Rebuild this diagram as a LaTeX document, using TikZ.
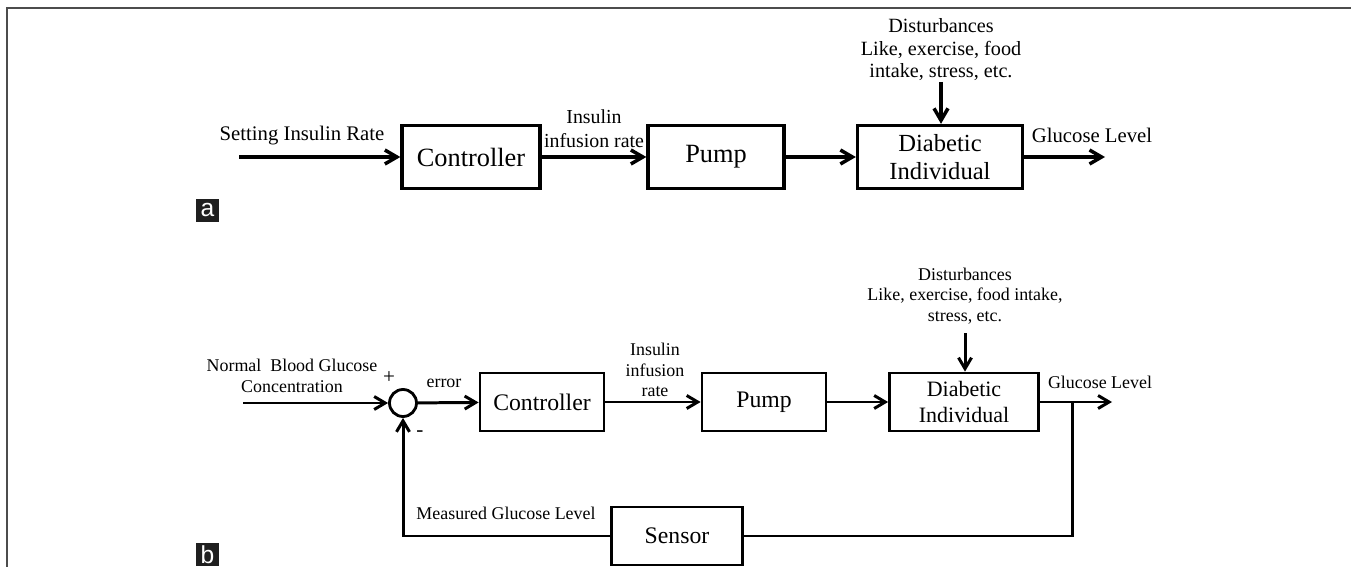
\documentclass[tikz,border=0pt]{standalone}
\usepackage{fontspec}
\setmainfont{Liberation Serif}
\setsansfont{Liberation Sans}
\usetikzlibrary{arrows.meta}

\tikzset{
  blka/.style={draw, line width=1.9pt, inner sep=0pt, align=center,
    minimum height=1.26cm, font=\fontsize{15}{17}\selectfont},
  blkb/.style={draw, line width=1.6pt, inner sep=0pt, align=center,
    minimum height=1.16cm, font=\fontsize{13.5}{15}\selectfont},
  lbla/.style={align=center, inner sep=0pt, font=\fontsize{11.8}{13.5}\selectfont},
  lblb/.style={align=center, inner sep=0pt, font=\fontsize{10.2}{11.6}\selectfont},
  sigA/.style={line width=2pt, -{Straight Barb[length=2.4mm,width=2.8mm]}},
  sigB/.style={line width=1.7pt, -{Straight Barb[length=2.2mm,width=2.6mm]}},
  tag/.style={fill=black!88, text=white, inner sep=0pt, minimum width=0.46cm,
    minimum height=0.46cm, font=\sffamily\fontsize{14}{14}\selectfont}
}

\begin{document}
\begin{tikzpicture}[x=0.02cm, y=-0.02cm]
\useasboundingbox (0,0) rectangle (1351,567);
\clip (0,0) rectangle (1351,567);
\draw[line width=1.2pt, black!70] (7,567) -- (7,8) -- (1351,8);

% open loop
\node[blka, minimum width=2.76cm] (ctrla) at (471,157) {Controller};
\node[blka, minimum width=2.72cm] (pumpa) at (716,157) {Pump};
\node[blka, minimum width=3.3cm, font=\fontsize{14}{15.5}\selectfont] (diaba) at (940,157) {Diabetic\\Individual};
\coordinate (ina) at (239,157);
\coordinate (outa) at (1105,157);
\coordinate (dista) at (941,82);
\node[lbla] (setl) at (302,136) {Setting Insulin Rate};
\node[lbla, font=\fontsize{11.3}{13.5}\selectfont] (infa) at (594,129) {Insulin\\infusion rate};
\node[lbla] (glua) at (1092,135) {Glucose Level};
\node[lbla, font=\fontsize{11.5}{12.8}\selectfont] (distla) at (941,50) {Disturbances\\Like, exercise, food\\intake, stress, etc.};
\draw[sigA] (ina) -- (ctrla);
\draw[sigA] (ctrla) -- (pumpa);
\draw[sigA] (pumpa) -- (diaba);
\draw[sigA] (diaba) -- (outa);
\draw[sigA] (dista) -- (diaba.north -| dista);

% closed loop
\node[draw, circle, line width=1.6pt, minimum size=0.54cm, inner sep=0pt] (sum) at (403,403) {};
\node[blkb, minimum width=2.48cm] (ctrlb) at (542,402) {Controller};
\node[blkb, minimum width=2.48cm] (pumpb) at (764,402) {Pump};
\node[blkb, minimum width=2.98cm, font=\fontsize{12.5}{14.5}\selectfont] (diabb) at (964,402) {Diabetic\\Individual};
\node[blkb, minimum width=2.62cm] (sens) at (677,536) {Sensor};
\coordinate (inb) at (243,403);
\coordinate (outb) at (1112,402);
\coordinate (tap) at (1072,402);
\coordinate (distb) at (965,333);
\node[lblb] (norm) at (292,376) {Normal\ \ Blood Glucose\\Concentration};
\node[lblb, font=\fontsize{12}{12}\selectfont] (plus) at (389,378) {+};
\node[lblb, font=\fontsize{12}{12}\selectfont] (minus) at (420,434) {-};
\node[lblb] (err) at (444,383) {error};
\node[lblb] (infb) at (655,370) {Insulin\\infusion\\rate};
\node[lblb] (glub) at (1100,382) {Glucose Level};
\node[lblb] (meas) at (506,513) {Measured Glucose Level};
\node[lblb] (distlb) at (965,296) {Disturbances\\Like, exercise, food intake,\\stress, etc.};
\draw[sigB] (inb) -- (sum);
\draw[sigB] (sum) -- (ctrlb);
\draw[sigB] (ctrlb) -- (pumpb);
\draw[sigB] (pumpb) -- (diabb);
\draw[sigB] (diabb) -- (outb);
\draw[sigB] (distb) -- (diabb.north -| distb);
\draw[line width=1.7pt] (tap) |- (sens);
\draw[sigB] (sens) -| (sum);

\node[tag] (taga) at (207.5,210.5) {a};
\node[tag] (tagb) at (207.5,554.5) {b};
\end{tikzpicture}
\end{document}
